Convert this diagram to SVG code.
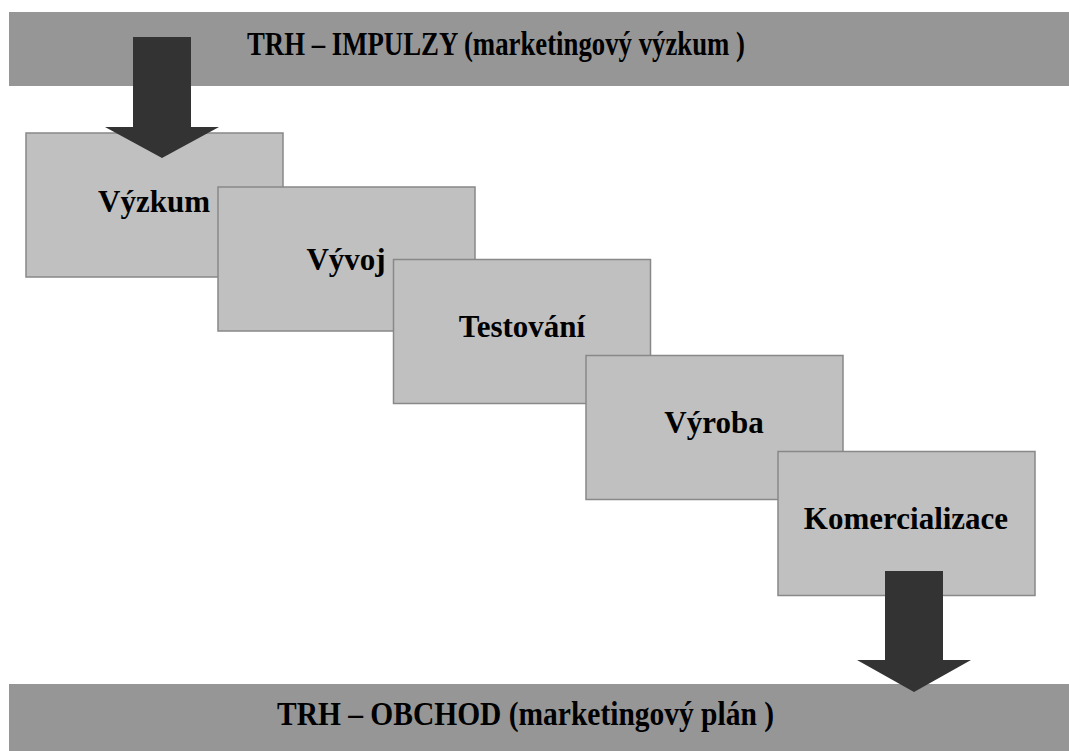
<svg xmlns="http://www.w3.org/2000/svg" width="1069" height="751" viewBox="0 0 1069 751">
<style>
.bar{fill:#969696;}
.box{fill:#c0c0c0;stroke:#888888;stroke-width:1.5;}
.arrow{fill:#333333;}
.lbl{font-family:"Liberation Serif","Times New Roman",serif;font-weight:bold;font-size:31px;fill:#000;text-anchor:middle;}
.ttl{font-family:"Liberation Serif","Times New Roman",serif;font-weight:bold;font-size:34px;fill:#000;}
</style>
<rect width="1069" height="751" fill="#ffffff"/>
<g id="top-bar">
<rect class="bar" x="9" y="12" width="1060" height="74"/>
<text class="ttl" x="247" y="55" textLength="498" lengthAdjust="spacingAndGlyphs">TRH – IMPULZY (marketingový výzkum )</text>
</g>
<g id="bottom-bar">
<rect class="bar" x="9" y="684" width="1060" height="67"/>
<text class="ttl" x="277" y="725" font-size="32" textLength="497" lengthAdjust="spacingAndGlyphs">TRH – OBCHOD (marketingový plán )</text>
</g>
<g id="vyzkum">
<rect class="box" x="26" y="133" width="257" height="144"/>
<text class="lbl" x="154" y="212">Výzkum</text>
</g>
<g id="vyvoj">
<rect class="box" x="218" y="187" width="257" height="144"/>
<text class="lbl" x="346" y="270">Vývoj</text>
</g>
<g id="testovani">
<rect class="box" x="393.5" y="259.5" width="257" height="144"/>
<text class="lbl" x="522" y="337">Testování</text>
</g>
<g id="vyroba">
<rect class="box" x="586" y="355.5" width="257" height="144"/>
<text class="lbl" x="714" y="433">Výroba</text>
</g>
<g id="komercializace">
<rect class="box" x="778" y="451.5" width="257" height="144"/>
<text class="lbl" x="906" y="529">Komercializace</text>
</g>
<g id="connectors">
<polygon class="arrow" points="133,37 191,37 191,127 219,127 162,158 105,127 133,127"/>
<polygon class="arrow" points="885,571 943,571 943,660 971,660 914,692 857,660 885,660"/>
</g>
</svg>
